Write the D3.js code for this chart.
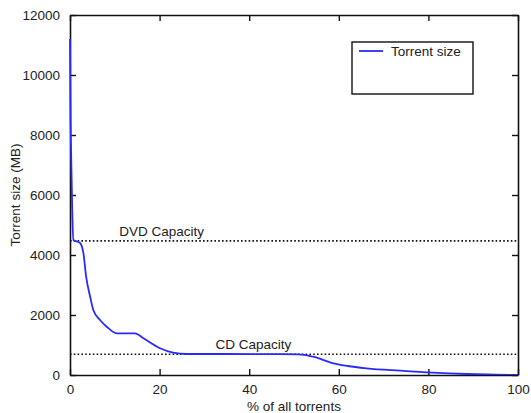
<!DOCTYPE html>
<html>
<head>
<meta charset="utf-8">
<script src="https://cdn.jsdelivr.net/npm/d3@7"></script>
<style>
  html, body { margin: 0; padding: 0; background: #fff; }
  svg text { font-family: "Liberation Sans", Arial, sans-serif; fill: #222; }
</style>
</head>
<body>
<svg id="chart" width="531" height="413"></svg>
<script>
// Share of all torrents (%) sorted by size, and the corresponding torrent size (MB)
const pctTorrents = [0, 0.1, 0.3, 0.5, 0.75, 2.2, 3.0, 3.6, 4.5, 5.2, 6.7, 8.2, 10.4, 14.5, 16.4, 20.1, 23, 26, 35, 45, 51, 54.3, 58.8, 62, 66.2, 73.7, 81, 88.5, 95, 100];
const sizeMB = [11200, 9000, 7000, 5500, 4500, 4410, 4057, 3277, 2610, 2167, 1833, 1610, 1390, 1390, 1223, 890, 743, 700, 700, 695, 690, 610, 390, 300, 223, 143, 77, 33, 12, 0];

// Reference capacities (MB)
const capacityNames = ["DVD Capacity", "CD Capacity"];
const capacityMB = [4470, 690];
const capacityLabelPct = [11, 32.5];

const xTicks = [0, 20, 40, 60, 80, 100];
const yTicks = [0, 2000, 4000, 6000, 8000, 10000, 12000];
const seriesName = "Torrent size";

const margin = { left: 70, right: 13, top: 15, bottom: 38 };
const W = 531, H = 413;
const svg = d3.select("#chart");

const x = d3.scaleLinear().domain([0, 100]).range([margin.left, W - margin.right]);
const y = d3.scaleLinear().domain([0, 12000]).range([H - margin.bottom, margin.top]);

const tickLen = 6;
const fontSize = 13.5;

// axes (box with inward ticks on all sides)
const axisG = svg.append("g");
const axisB = d3.axisBottom(x).tickValues(xTicks).tickSizeInner(-tickLen).tickSizeOuter(0).tickPadding(9).tickFormat(d3.format("d"));
const axisT = d3.axisTop(x).tickValues(xTicks).tickSizeInner(-tickLen).tickSizeOuter(0).tickFormat("");
const axisL = d3.axisLeft(y).tickValues(yTicks).tickSizeInner(-tickLen).tickSizeOuter(0).tickPadding(10).tickFormat(d3.format("d"));
const axisR = d3.axisRight(y).tickValues(yTicks).tickSizeInner(-tickLen).tickSizeOuter(0).tickFormat("");

axisG.append("g").attr("transform", `translate(0,${y(0)})`).call(axisB);
axisG.append("g").attr("transform", `translate(0,${y(12000)})`).call(axisT);
axisG.append("g").attr("transform", `translate(${x(0)},0)`).call(axisL);
axisG.append("g").attr("transform", `translate(${x(100)},0)`).call(axisR);

axisG.selectAll(".domain").attr("stroke", "#111").attr("stroke-width", 1.6);
axisG.selectAll(".tick line").attr("stroke", "#111").attr("stroke-width", 1.4);
axisG.selectAll(".tick text")
  .attr("font-size", fontSize)
  .attr("font-family", "Liberation Sans, Arial, sans-serif")
  .attr("fill", "#222");

// clip region for plot contents
svg.append("clipPath").attr("id", "plotClip")
  .append("rect")
  .attr("x", x(0) - 1).attr("y", y(12000))
  .attr("width", x(100) - x(0) + 1).attr("height", y(0) - y(12000));

const plot = svg.append("g").attr("clip-path", "url(#plotClip)");

// capacity reference lines
plot.selectAll("line.cap")
  .data(capacityMB)
  .join("line")
  .attr("class", "cap")
  .attr("x1", x(0)).attr("x2", x(100))
  .attr("y1", d => y(d)).attr("y2", d => y(d))
  .attr("stroke", "#111")
  .attr("stroke-width", 1.6)
  .attr("stroke-dasharray", "1.6,2.2");

// torrent size curve
const sizeLine = d3.line().x(d => x(d[0])).y(d => y(d[1])).curve(d3.curveMonotoneX);
plot.append("path")
  .datum(pctTorrents.map((p, i) => [p, sizeMB[i]]))
  .attr("d", sizeLine)
  .attr("fill", "none")
  .attr("stroke", "#2a2aff")
  .attr("stroke-width", 1.8)
  .attr("stroke-linejoin", "round");

// capacity labels
svg.selectAll("text.capLabel")
  .data(capacityNames)
  .join("text")
  .attr("class", "capLabel")
  .attr("x", (d, i) => x(capacityLabelPct[i]))
  .attr("y", (d, i) => y(capacityMB[i]) - 5)
  .attr("font-size", fontSize)
  .text(d => d);

// axis titles
svg.append("text")
  .attr("x", (x(0) + x(100)) / 2)
  .attr("y", 411)
  .attr("text-anchor", "middle")
  .attr("font-size", fontSize)
  .text("% of all torrents");

svg.append("text")
  .attr("transform", `translate(20,${(y(0) + y(12000)) / 2}) rotate(-90)`)
  .attr("text-anchor", "middle")
  .attr("font-size", fontSize)
  .text("Torrent size (MB)");

// legend
const legend = svg.append("g").attr("transform", "translate(352,42)");
legend.append("rect")
  .attr("width", 121).attr("height", 52)
  .attr("fill", "#fff").attr("stroke", "#111").attr("stroke-width", 1.4);
legend.append("line")
  .attr("x1", 7).attr("x2", 31).attr("y1", 9).attr("y2", 9)
  .attr("stroke", "#2a2aff").attr("stroke-width", 1.8);
legend.append("text")
  .attr("x", 39).attr("y", 13.5)
  .attr("font-size", fontSize)
  .text(seriesName);
</script>
</body>
</html>
